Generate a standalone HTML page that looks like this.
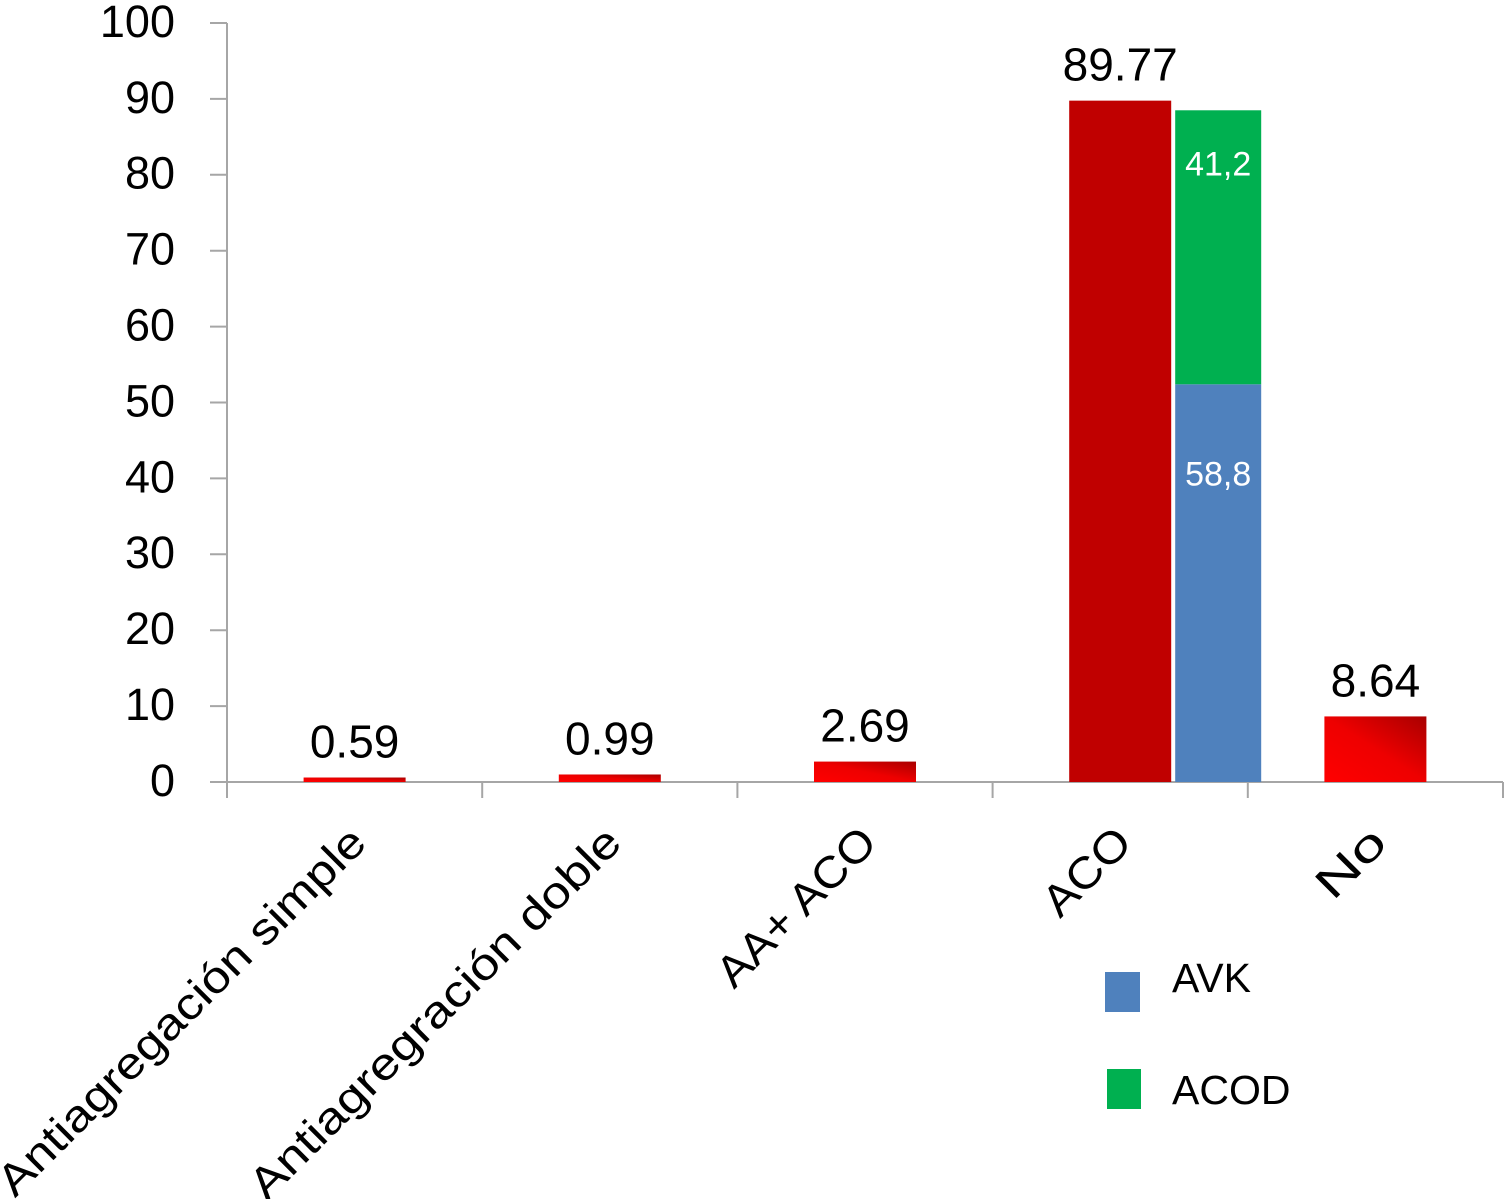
<!DOCTYPE html>
<html><head><meta charset="utf-8"><style>
html,body{margin:0;padding:0;background:#fff;}
svg{display:block;font-family:"Liberation Sans",sans-serif;}
</style></head><body>
<svg id="chart" width="1508" height="1199" viewBox="0 0 1508 1199" xmlns="http://www.w3.org/2000/svg">
<defs>
<linearGradient id="redgrad" x1="0" y1="1" x2="1" y2="0">
<stop offset="0" stop-color="#ff0000"/><stop offset="0.5" stop-color="#ee0000"/><stop offset="1" stop-color="#a80000"/>
</linearGradient>
</defs>
<g id="axes"></g>
<g id="bars"></g>
<g id="labels"></g>
<g id="legend">
<rect x="1105" y="972" width="35" height="40" fill="#4f81bd"/>
<text x="1172" y="981" font-size="41" dominant-baseline="middle">AVK</text>
<rect x="1107" y="1069" width="34" height="40" fill="#00b050"/>
<text x="1172" y="1093" font-size="41" dominant-baseline="middle">ACOD</text>
</g>
</svg>
<script>
const categories = ["Antiagregación simple","Antiagregración doble","AA+ ACO","ACO","No"];
const values = [0.59, 0.99, 2.69, 89.77, 8.64];
const valueLabels = ["0.59","0.99","2.69","89.77","8.64"];
const avkHeight = 52.4;
const acodHeight = 36.1;
const avkLabel = "58,8";
const acodLabel = "41,2";
const yTicks = [0,10,20,30,40,50,60,70,80,90,100];
const labelLengths = [500, 505, 205, 105, 80];

const NS = "http://www.w3.org/2000/svg";
const x0 = 227, x1 = 1503, y0 = 782, y100 = 23;
const catW = (x1 - x0) / categories.length;
function yScale(v){ return y0 - (y0 - y100) * v / 100; }
function xCenter(i){ return x0 + catW * (i + 0.5); }
function mk(tag, attrs, parent){ const e = document.createElementNS(NS, tag); for (const k in attrs) e.setAttribute(k, attrs[k]); parent.appendChild(e); return e; }

const axes = document.getElementById('axes');
const bars = document.getElementById('bars');
const labels = document.getElementById('labels');

const yAxis = mk('line', {x1:x0, y1:y100, x2:x0, y2:798, stroke:'#a6a6a6', 'stroke-width':2}, axes);


const xAxis = mk('line', {x1:210, y1:y0, x2:x1, y2:y0, stroke:'#a6a6a6', 'stroke-width':2}, axes);



yTicks.forEach(t => {
  const y = yScale(t);
  const tk = mk('line', {x1:210, y1:y, x2:x0, y2:y, stroke:'#a6a6a6', 'stroke-width':2}, axes);
  
  
  const tl = mk('text', {x:175, y:y + 2, 'font-size':45, 'text-anchor':'end', 'dominant-baseline':'middle'}, axes);
  tl.textContent = String(t);
  
  
});
for (let i = 0; i <= categories.length; i++) {
  const x = x0 + catW * i;
  const tk = mk('line', {x1:x, y1:y0, x2:x, y2:798, stroke:'#a6a6a6', 'stroke-width':2}, axes);
  
  
}

categories.forEach((c, i) => {
  const cx = xCenter(i);
  const isACO = i === 3;
  const bw = 102;
  const redX = cx - bw/2;
  const top = yScale(values[i]);
  const r = mk('rect', {x:redX, y:top, width:bw, height:y0 - top, fill: isACO ? '#c00000' : 'url(#redgrad)'}, bars);
  
  
  const vl = mk('text', {x:redX + bw/2, y:top - 20, 'font-size':46, 'text-anchor':'middle'}, labels);
  vl.textContent = valueLabels[i];
  
  
  if (isACO) {
    const sx = redX + bw + 4, sw = 86;
    const avkTop = yScale(avkHeight);
    const acodTop = yScale(avkHeight + acodHeight);
    const b1 = mk('rect', {x:sx, y:avkTop, width:sw, height:y0 - avkTop, fill:'#4f81bd'}, bars);
    
    
    const b2 = mk('rect', {x:sx, y:acodTop, width:sw, height:avkTop - acodTop, fill:'#00b050'}, bars);
    
    
    const l1 = mk('text', {x:sx + sw/2, y:avkTop + 92, 'font-size':34, fill:'#fff', 'text-anchor':'middle', 'dominant-baseline':'middle'}, labels);
    l1.textContent = avkLabel;
    
    
    const l2 = mk('text', {x:sx + sw/2, y:acodTop + 56, 'font-size':34, fill:'#fff', 'text-anchor':'middle', 'dominant-baseline':'middle'}, labels);
    l2.textContent = acodLabel;
    
    
  }
  const ax = cx + 14, ay = 845;
  const cl = mk('text', {x:ax, y:ay, 'font-size':44, 'text-anchor':'end', transform:`rotate(-45 ${ax} ${ay})`, textLength:labelLengths[i], lengthAdjust:'spacingAndGlyphs'}, labels);
  cl.textContent = c;
  
  
});
</script>
</body></html>
